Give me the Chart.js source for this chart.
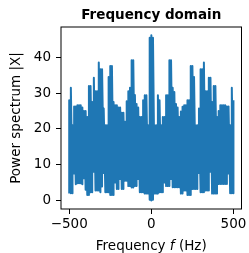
<!DOCTYPE html>
<html>
<head>
<meta charset="utf-8">
<script src="https://cdn.jsdelivr.net/npm/chart.js@4.4.1/dist/chart.umd.min.js"></script>
<style>
  html, body { margin: 0; padding: 0; background: #fff; }
  #wrap { width: 249px; height: 253px; }
</style>
</head>
<body>
<div id="wrap"><canvas id="spec" width="249" height="253"></canvas></div>
<script>
// frequency bins (Hz)
const freqs = [
  -500, -490, -480, -470, -460, -450, -440, -430, -420, -410,
  -400, -390, -380, -370, -360, -350, -340, -330, -320, -310,
  -300, -290, -280, -270, -260, -250, -240, -230, -220, -210,
  -200, -190, -180, -170, -160, -150, -140, -130, -120, -110,
  -100, -90, -80, -70, -60, -50, -40, -30, -20, -10,
  0, 10, 20, 30, 40, 50, 60, 70, 80, 90,
  100, 110, 120, 130, 140, 150, 160, 170, 180, 190,
  200, 210, 220, 230, 240, 250, 260, 270, 280, 290,
  300, 310, 320, 330, 340, 350, 360, 370, 380, 390,
  400, 410, 420, 430, 440, 450, 460, 470, 480, 490, 500
];

// upper envelope of |X| in each bin
const peakVals = [
  28, 31.5, 21, 26.3, 26.3, 26.6, 26.6, 26.6, 26, 25,
  25, 23.3, 32, 32, 27.5, 34.3, 30.5, 30.5, 38.6, 36.7,
  36.7, 25.7, 21, 21, 34.5, 37.6, 37.6, 27.5, 26.6, 26.6,
  26, 26, 24.5, 24.5, 22, 27.7, 30.5, 31.5, 39.2, 39.2,
  29.5, 27, 26, 23.3, 23.3, 28, 29.4, 29.4, 21, 45.5,
  46.2, 45.5, 21, 21, 29.4, 28, 21, 23.3, 23.3, 29.4,
  29.4, 39.2, 39.2, 31.5, 30.3, 27, 26, 23.3, 24.9, 26.2,
  26.6, 26.6, 28, 28, 37.6, 37.6, 34.5, 21, 21, 25.7,
  36.7, 36.7, 38.6, 30.5, 30.5, 34.3, 34.3, 27.5, 32, 32,
  23.3, 25, 26.6, 26.6, 26.6, 26.6, 26.3, 26.3, 21, 31.5, 28
];

// lower envelope of |X| in each bin
const troughVals = [
  1.9, 2, 2, 7.5, 4.5, 4.8, 4.8, 4.8, 4.5, 6.2,
  3, 1.5, 1.5, 2.3, 2.3, 8, 2.8, 2.8, 2.8, 2.3,
  3.9, 7.7, 2.3, 2.3, 2.3, 1.5, 1.5, 1.5, 5, 3.2,
  3.2, 6, 3.2, 3.2, 5.5, 5.5, 4, 4, 3.6, 3.6,
  4, 4, 6, 2.3, 2.3, 2.3, 1.9, 1.9, 1.9, 0.2,
  0, 0.2, 1.9, 1.9, 1.9, 2.3, 2.3, 2.3, 5, 4,
  4, 4, 6, 3.7, 3.7, 3.7, 3.7, 3.7, 1.9, 1.9,
  2.8, 2.8, 1.5, 1.5, 1.5, 3.2, 3.2, 3.2, 3.2, 7.7,
  2.3, 2.3, 2.3, 2.8, 2.8, 2.8, 8, 1.9, 1.9, 1.9,
  1.9, 4.6, 4.6, 4.6, 4.6, 4.6, 4.6, 7.5, 2, 2, 2
];

const xTicks = [-500, 0, 500];
const yTicks = [0, 10, 20, 30, 40];

// the dense spectrum line: down to the trough, up to the peak, bin by bin
const points = [];
freqs.forEach((f, i) => {
    points.push({ x: f, y: troughVals[i] });
    points.push({ x: f, y: peakVals[i] });
});

const FONT = '"DejaVu Sans", "Liberation Sans", sans-serif';
const FS = 13.5;

// frame + title + axis labels (x label has an italic f)
const textPlugin = {
    id: 'mplText',
    afterDraw(chart) {
        const ctx = chart.ctx;
        const ca = chart.chartArea;
        ctx.save();
        ctx.strokeStyle = '#000';
        ctx.lineWidth = 1;
        ctx.strokeRect(ca.left, ca.top, ca.right - ca.left, ca.bottom - ca.top);

        ctx.fillStyle = '#000';
        ctx.textBaseline = 'alphabetic';
        const cx = (ca.left + ca.right) / 2;

        ctx.font = 'bold ' + FS + 'px ' + FONT;
        ctx.textAlign = 'center';
        ctx.fillText('Frequency domain', cx, 19);

        // x label
        const normal = FS + 'px ' + FONT;
        const italic = 'oblique ' + FS + 'px ' + FONT;
        const parts = [['Frequency ', normal], ['f', italic], [' (Hz)', normal]];
        let total = 0;
        parts.forEach(p => { ctx.font = p[1]; total += ctx.measureText(p[0]).width; });
        let x = cx - total / 2;
        ctx.textAlign = 'left';
        parts.forEach(p => {
            ctx.font = p[1];
            ctx.fillText(p[0], x, 250);
            x += ctx.measureText(p[0]).width;
        });

        // y label
        ctx.font = normal;
        ctx.textAlign = 'center';
        ctx.translate(20, (ca.top + ca.bottom) / 2);
        ctx.rotate(-Math.PI / 2);
        ctx.fillText('Power spectrum |X|', 0, 0);
        ctx.restore();
    }
};

const minusFmt = v => String(v).replace('-', '\u2212');

new Chart(document.getElementById('spec'), {
    type: 'line',
    data: {
        datasets: [{
            data: points,
            borderColor: '#1f77b4',
            borderWidth: 2,
            borderJoinStyle: 'round',
            pointRadius: 0,
            tension: 0,
            fill: false
        }]
    },
    options: {
        responsive: false,
        animation: false,
        layout: { padding: { left: 0, right: 7.5, top: 27, bottom: 0 } },
        plugins: {
            legend: { display: false },
            tooltip: { enabled: false },
            title: { display: false }
        },
        scales: {
            x: {
                type: 'linear',
                min: -550,
                max: 549,
                afterFit: s => { s.height = 44; },
                afterBuildTicks: s => { s.ticks = xTicks.map(v => ({ value: v })); },
                border: { display: false },
                grid: { drawOnChartArea: false, drawTicks: true, tickLength: 5, color: '#000' },
                ticks: { color: '#000', font: { family: FONT, size: FS }, padding: 2, maxRotation: 0, callback: minusFmt }
            },
            y: {
                type: 'linear',
                min: -2.4,
                max: 48.5,
                afterFit: s => { s.width = 61; },
                afterBuildTicks: s => { s.ticks = yTicks.map(v => ({ value: v })); },
                border: { display: false },
                grid: { drawOnChartArea: false, drawTicks: true, tickLength: 5, color: '#000' },
                ticks: { color: '#000', font: { family: FONT, size: FS }, padding: 5, callback: minusFmt }
            }
        }
    },
    plugins: [textPlugin]
});
</script>
</body>
</html>
